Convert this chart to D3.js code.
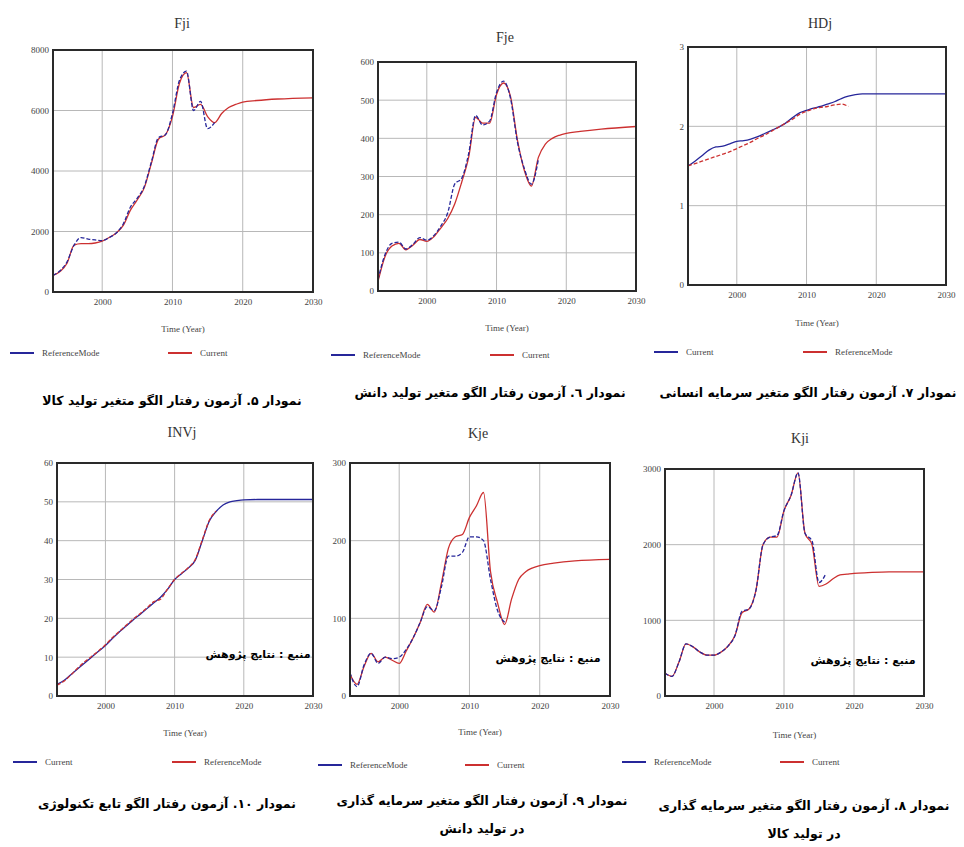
<!DOCTYPE html>
<html>
<head>
<meta charset="utf-8">
<script src="https://cdn.jsdelivr.net/npm/d3@7"></script>
<style>
  body { margin: 0; background: #fff; }
  svg text.fa { font-family: "DejaVu Sans", sans-serif; font-weight: bold; }
  svg text.en { font-family: "Liberation Serif", serif; fill: #444; }
</style>
</head>
<body>
<div id="chart"></div>
<script>
'use strict';

var W = 964, H = 847;

// --- data ---
var histYears = d3.range(1993, 2017);          // 1993 .. 2016
var longYears = d3.range(1993, 2021).concat([2022, 2025, 2030]);

var fjiRef = [550, 700, 1000, 1550, 1800, 1750, 1720, 1700, 1800, 1950, 2250, 2800, 3100, 3500, 4300, 5100, 5200, 5900, 7000, 7300, 6000, 6300, 5400, 5600];
var fjiCur = [550, 680, 950, 1550, 1600, 1600, 1620, 1680, 1800, 1950, 2200, 2700, 3050, 3450, 4250, 5050, 5200, 5800, 6900, 7250, 6100, 6200, 5800, 5600, 5900, 6100, 6200, 6280, 6330, 6380, 6420];

var fjeRef = [30, 95, 125, 128, 110, 122, 140, 133, 145, 170, 205, 280, 295, 360, 460, 435, 445, 520, 550, 505, 390, 320, 280, 345];
var fjeCur = [25, 90, 118, 125, 108, 120, 135, 130, 142, 165, 190, 228, 285, 350, 455, 440, 440, 515, 545, 510, 395, 315, 275, 350, 385, 400, 408, 413, 418, 424, 431];

var hdjCur = [1.50, 1.56, 1.63, 1.70, 1.74, 1.75, 1.78, 1.81, 1.82, 1.84, 1.87, 1.91, 1.95, 1.99, 2.04, 2.11, 2.17, 2.20, 2.23, 2.25, 2.28, 2.31, 2.35, 2.38, 2.40, 2.41, 2.41, 2.41, 2.41, 2.41, 2.41];
var hdjRef = [1.50, 1.53, 1.56, 1.59, 1.62, 1.65, 1.68, 1.72, 1.76, 1.80, 1.85, 1.89, 1.94, 1.99, 2.04, 2.09, 2.15, 2.19, 2.22, 2.24, 2.25, 2.27, 2.28, 2.25];

var invCur = [3.0, 4.0, 5.5, 7.0, 8.5, 10.0, 11.5, 13.0, 14.8, 16.5, 18.0, 19.6, 21.0, 22.5, 24.0, 25.5, 27.5, 30.0, 31.5, 33.0, 35.0, 40.0, 45.0, 47.5, 49.2, 50.0, 50.3, 50.5, 50.6, 50.6, 50.6];
var invRef = [2.8, 3.8, 5.4, 7.2, 8.8, 10.2, 11.6, 13.2, 15.0, 16.6, 18.2, 19.8, 21.2, 22.7, 24.3, 25.0, 27.6, 30.0, 31.6, 33.1, 35.2, 40.2, 45.2, 47.6];

var kjeRef = [30, 12, 40, 55, 42, 50, 48, 50, 60, 75, 95, 115, 110, 140, 180, 180, 185, 205, 205, 200, 150, 110, 95];
var kjeCur = [28, 15, 38, 55, 44, 50, 46, 42, 58, 75, 95, 118, 108, 145, 190, 205, 208, 230, 245, 262, 160, 120, 92, 125, 150, 160, 165, 168, 171, 174, 176];

var kjiRef = [300, 260, 450, 690, 650, 580, 540, 540, 580, 660, 800, 1120, 1150, 1400, 2000, 2100, 2120, 2450, 2650, 2950, 2150, 2050, 1500, 1620];
var kjiCur = [300, 260, 450, 690, 650, 580, 540, 540, 580, 660, 800, 1100, 1150, 1400, 2000, 2100, 2100, 2450, 2650, 2950, 2150, 2000, 1450, 1480, 1550, 1600, 1610, 1620, 1630, 1640, 1640];

var xTicks = [2000, 2010, 2020, 2030];
var BLUE = "#26269a", RED = "#cc3030";

var svg = d3.select("#chart").append("svg")
    .attr("width", W)
    .attr("height", H);

function pairs(years, vals) {
    return vals.map(function (v, i) { return [years[i], v]; });
}

var panels = [
    {title: "Fji", box: [53, 50, 313, 292], yMax: 8000, yStep: 2000, titleXY: [182, 28], axisY: 332,
     series: [{name: "ReferenceMode", color: BLUE, data: pairs(histYears, fjiRef)},
              {name: "Current", color: RED, data: pairs(longYears, fjiCur)}],
     drawOrder: [1, 0],
     legend: [[10, 353], [168, 353]],
     caption: ["نمودار ۵. آزمون رفتار الگو متغیر تولید کالا"], capXY: [172, 405]},
    {title: "Fje", box: [378, 62, 636, 291], yMax: 600, yStep: 100, titleXY: [505, 42], axisY: 331,
     series: [{name: "ReferenceMode", color: BLUE, data: pairs(histYears, fjeRef)},
              {name: "Current", color: RED, data: pairs(longYears, fjeCur)}],
     drawOrder: [1, 0],
     legend: [[331, 355], [490, 355]],
     caption: ["نمودار ٦. آزمون رفتار الگو متغیر تولید دانش"], capXY: [490, 397]},
    {title: "HDj", box: [688, 47, 946, 285], yMax: 3, yStep: 1, titleXY: [820, 28], axisY: 326,
     series: [{name: "Current", color: BLUE, data: pairs(longYears, hdjCur)},
              {name: "ReferenceMode", color: RED, data: pairs(histYears, hdjRef)}],
     drawOrder: [0, 1],
     legend: [[654, 352], [803, 352]],
     caption: ["نمودار ۷. آزمون رفتار الگو متغیر سرمایه انسانی"], capXY: [808, 397]},
    {title: "INVj", box: [57, 463, 313, 696], yMax: 60, yStep: 10, titleXY: [182, 437], axisY: 736,
     series: [{name: "Current", color: BLUE, data: pairs(longYears, invCur)},
              {name: "ReferenceMode", color: RED, data: pairs(histYears, invRef)}],
     drawOrder: [0, 1],
     legend: [[13, 762], [172, 762]],
     source: [258, 658],
     caption: ["نمودار ۱۰. آزمون رفتار الگو تابع تکنولوژی"], capXY: [167, 808]},
    {title: "Kje", box: [350, 463, 610, 696], yMax: 300, yStep: 100, titleXY: [478, 438], axisY: 735,
     series: [{name: "ReferenceMode", color: BLUE, data: pairs(histYears, kjeRef)},
              {name: "Current", color: RED, data: pairs(longYears, kjeCur)}],
     drawOrder: [1, 0],
     legend: [[318, 765], [465, 765]],
     source: [548, 662],
     caption: ["نمودار ۹. آزمون رفتار الگو متغیر سرمایه گذاری", "در تولید دانش"], capXY: [482, 805]},
    {title: "Kji", box: [665, 469, 924, 696], yMax: 3000, yStep: 1000, titleXY: [800, 443], axisY: 738,
     series: [{name: "ReferenceMode", color: BLUE, data: pairs(histYears, kjiRef)},
              {name: "Current", color: RED, data: pairs(longYears, kjiCur)}],
     drawOrder: [1, 0],
     legend: [[622, 762], [780, 762]],
     source: [863, 664],
     caption: ["نمودار ۸. آزمون رفتار الگو متغیر سرمایه گذاری", "در تولید کالا"], capXY: [804, 810]}
];

panels.forEach(drawPanel);

function drawPanel(p) {
    var l = p.box[0], t = p.box[1], r = p.box[2], b = p.box[3];
    var x = d3.scaleLinear().domain([1993, 2030]).range([l, r]);
    var y = d3.scaleLinear().domain([0, p.yMax]).range([b, t]);
    var yTicks = d3.range(0, p.yMax + p.yStep / 2, p.yStep);
    var g = svg.append("g");

    // grid
    g.append("g").selectAll("line.v").data(xTicks).enter().append("line")
        .attr("x1", function (d) { return x(d); }).attr("x2", function (d) { return x(d); })
        .attr("y1", t).attr("y2", b)
        .attr("stroke", "#b8b8b8").attr("stroke-width", 1);
    g.append("g").selectAll("line.h").data(yTicks).enter().append("line")
        .attr("x1", l).attr("x2", r)
        .attr("y1", function (d) { return y(d); }).attr("y2", function (d) { return y(d); })
        .attr("stroke", "#b8b8b8").attr("stroke-width", 1);

    // axes labels
    var yAxis = d3.axisLeft(y).tickValues(yTicks).tickSize(0).tickPadding(4)
        .tickFormat(d3.format("d"));
    var ya = g.append("g").attr("transform", "translate(" + l + ",0)").call(yAxis);
    ya.select(".domain").remove();
    ya.selectAll("text").attr("class", "en").style("font-size", "9px");

    var xAxis = d3.axisBottom(x).tickValues(xTicks).tickSize(0).tickPadding(7)
        .tickFormat(d3.format("d"));
    var xa = g.append("g").attr("transform", "translate(0," + b + ")").call(xAxis);
    xa.select(".domain").remove();
    xa.selectAll("text").attr("class", "en").style("font-size", "9px");

    // lines
    var line = d3.line()
        .x(function (d) { return x(d[0]); })
        .y(function (d) { return y(d[1]); })
        .curve(d3.curveMonotoneX);
    p.drawOrder.forEach(function (i, k) {
        var s = p.series[i];
        g.append("path")
            .datum(s.data)
            .attr("d", line)
            .attr("fill", "none")
            .attr("stroke", s.color)
            .attr("stroke-width", 1.3)
            .attr("stroke-dasharray", k === 1 ? "4,2" : null);
    });

    // frame
    g.append("rect")
        .attr("x", l).attr("y", t).attr("width", r - l).attr("height", b - t)
        .attr("fill", "none").attr("stroke", "#2a2a2a").attr("stroke-width", 2);

    // title
    g.append("text").attr("class", "en")
        .attr("x", p.titleXY[0]).attr("y", p.titleXY[1])
        .attr("text-anchor", "middle").style("font-size", "14px").style("fill", "#333")
        .text(p.title);

    g.append("text").attr("class", "en")
        .attr("x", (l + r) / 2).attr("y", p.axisY)
        .attr("text-anchor", "middle").style("font-size", "9px")
        .text("Time (Year)");

    // legend
    p.series.forEach(function (s, i) {
        var lx = p.legend[i][0], ly = p.legend[i][1];
        g.append("line")
            .attr("x1", lx).attr("x2", lx + 24).attr("y1", ly).attr("y2", ly)
            .attr("stroke", s.color).attr("stroke-width", 2);
        g.append("text").attr("class", "en")
            .attr("x", lx + 32).attr("y", ly + 3)
            .style("font-size", "9px")
            .text(s.name);
    });

    if (p.source) {
        g.append("text").attr("class", "fa")
            .attr("x", p.source[0]).attr("y", p.source[1])
            .attr("text-anchor", "middle").attr("direction", "rtl")
            .style("font-size", "11px")
            .text("منبع : نتایج پژوهش");
    }

    p.caption.forEach(function (c, i) {
        g.append("text").attr("class", "fa")
            .attr("x", p.capXY[0]).attr("y", p.capXY[1] + i * 28)
            .attr("text-anchor", "middle").attr("direction", "rtl")
            .style("font-size", "12.5px")
            .text(c);
    });
}
</script>
</body>
</html>
